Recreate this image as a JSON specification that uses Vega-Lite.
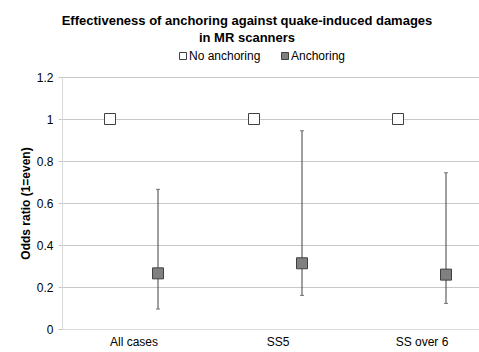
{
  "$schema": "https://vega.github.io/schema/vega-lite/v6.json",
  "width": 412,
  "height": 252,
  "autosize": "none",
  "padding": {"left": 62, "top": 77, "right": 5, "bottom": 23},
  "background": "white",
  "title": {
    "text": ["Effectiveness of anchoring against quake-induced damages", "in MR scanners"],
    "font": "Liberation Sans",
    "fontSize": 13,
    "fontWeight": "bold",
    "color": "#000000",
    "anchor": "middle",
    "dx": -21,
    "offset": 5,
    "lineHeight": 17
  },
  "data": {
    "values": [
      {"category": "All cases", "series": "No anchoring", "value": 1, "lo": null, "hi": null},
      {"category": "All cases", "series": "Anchoring", "value": 0.265, "lo": 0.095, "hi": 0.665},
      {"category": "SS5", "series": "No anchoring", "value": 1, "lo": null, "hi": null},
      {"category": "SS5", "series": "Anchoring", "value": 0.313, "lo": 0.16, "hi": 0.944},
      {"category": "SS over 6", "series": "No anchoring", "value": 1, "lo": null, "hi": null},
      {"category": "SS over 6", "series": "Anchoring", "value": 0.259, "lo": 0.122, "hi": 0.744}
    ]
  },
  "encoding": {
    "x": {
      "field": "category",
      "type": "nominal",
      "sort": ["All cases", "SS5", "SS over 6"],
      "scale": {"paddingInner": 0, "paddingOuter": 0, "range": [0, 432]},
      "axis": {"title": null, "labelAngle": 0, "ticks": false, "grid": false, "labelPadding": 7, "domainColor": "#d9d9d9", "labelFont": "Liberation Sans", "labelFontSize": 12, "labelColor": "#000000"}
    },
    "xOffset": {
      "field": "series",
      "type": "nominal",
      "sort": ["No anchoring", "Anchoring"],
      "scale": {"paddingInner": 0, "paddingOuter": 0.5}
    }
  },
  "layer": [
    {
      "transform": [{"filter": "datum.series === 'Anchoring'"}],
      "mark": {"type": "rule", "color": "#404040", "strokeWidth": 1},
      "encoding": {
        "y": {"field": "lo", "type": "quantitative", "scale": {"domain": [0, 1.2], "nice": false}, "axis": {"title": "Odds ratio (1=even)"}},
        "y2": {"field": "hi"}
      }
    },
    {
      "transform": [{"filter": "datum.series === 'Anchoring'"}],
      "mark": {"type": "tick", "color": "#404040", "size": 4, "thickness": 1},
      "encoding": {
        "y": {"field": "lo", "type": "quantitative", "scale": {"domain": [0, 1.2], "nice": false}, "axis": {"title": "Odds ratio (1=even)"}}
      }
    },
    {
      "transform": [{"filter": "datum.series === 'Anchoring'"}],
      "mark": {"type": "tick", "color": "#404040", "size": 4, "thickness": 1},
      "encoding": {
        "y": {"field": "hi", "type": "quantitative", "scale": {"domain": [0, 1.2], "nice": false}, "axis": {"title": "Odds ratio (1=even)"}}
      }
    },
    {
      "mark": {"type": "point", "shape": "square", "filled": true, "size": 121, "stroke": "#404040", "strokeWidth": 1, "opacity": 1},
      "encoding": {
        "y": {"field": "value", "type": "quantitative", "scale": {"domain": [0, 1.2], "nice": false}, "axis": {"title": "Odds ratio (1=even)"}},
        "fill": {
          "field": "series",
          "type": "nominal",
          "sort": ["No anchoring", "Anchoring"],
          "scale": {"domain": ["No anchoring", "Anchoring"], "range": ["#ffffff", "#808080"]},
          "legend": {"title": null, "orient": "none", "legendX": 115, "legendY": -27, "direction": "horizontal"}
        }
      }
    }
  ],
  "config": {
    "view": {"stroke": null},
    "axisY": {
      "values": [0, 0.2, 0.4, 0.6, 0.8, 1, 1.2],
      "format": ".1~f",
      "domainColor": "#d9d9d9",
      "gridColor": "#c8c8c8",
      "tickColor": "#c8c8c8",
      "tickSize": 4,
      "labelPadding": 5,
      "labelFont": "Liberation Sans",
      "labelFontSize": 12,
      "labelColor": "#000000",
      "titleFont": "Liberation Sans",
      "titleFontSize": 12,
      "titleFontWeight": "bold",
      "titleColor": "#000000",
      "titlePadding": 4
    },
    "legend": {
      "symbolType": "square",
      "symbolSize": 49,
      "symbolStrokeColor": "#404040",
      "symbolStrokeWidth": 1,
      "labelFont": "Liberation Sans",
      "labelFontSize": 12,
      "labelColor": "#000000",
      "labelOffset": 0,
      "columnPadding": 18,
      "padding": 0
    }
  }
}
